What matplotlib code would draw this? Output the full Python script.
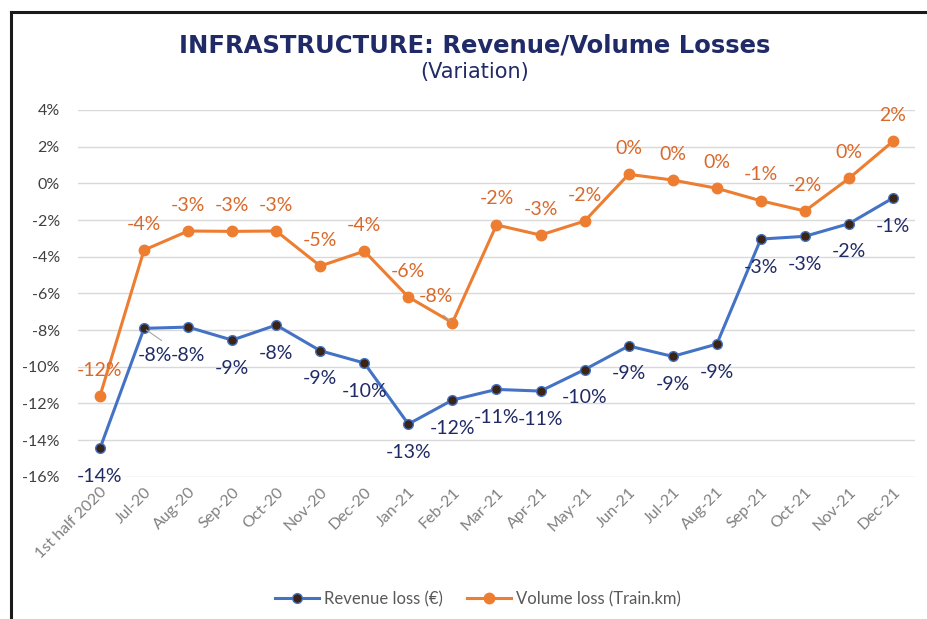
import matplotlib
matplotlib.use("Agg")
import matplotlib.pyplot as plt
from matplotlib.lines import Line2D

# data (percent)
months = ["1st half 2020", "Jul-20", "Aug-20", "Sep-20", "Oct-20", "Nov-20", "Dec-20",
          "Jan-21", "Feb-21", "Mar-21", "Apr-21", "May-21", "Jun-21", "Jul-21",
          "Aug-21", "Sep-21", "Oct-21", "Nov-21", "Dec-21"]
revenue = [-14.46, -7.91, -7.84, -8.55, -7.73, -9.13, -9.80, -13.13, -11.82, -11.24,
           -11.33, -10.16, -8.87, -9.44, -8.77, -3.04, -2.89, -2.20, -0.80]
volume = [-11.60, -3.64, -2.60, -2.62, -2.60, -4.51, -3.70, -6.20, -7.60, -2.27,
          -2.82, -2.06, 0.49, 0.18, -0.27, -0.95, -1.51, 0.27, 2.29]
yticks = [4, 2, 0, -2, -4, -6, -8, -10, -12, -14, -16]

plt.rcParams['font.family'] = ['Lato', 'DejaVu Sans']

ORANGE = '#ED7D31'
ORANGE_TXT = '#D9692A'
BLUE = '#4472C4'
NAVY = '#1F2A66'
GRAY = '#595959'

fig = plt.figure(figsize=(9.28, 6.19), dpi=100)
ax = fig.add_axes([0.084, 0.2299, 0.902, 0.5924])

x = list(range(len(months)))
ax.plot(x, volume, color=ORANGE, lw=2.2, marker='o', ms=7.5,
        mfc=ORANGE, mec=ORANGE, zorder=3, label='Volume loss (Train.km)')
ax.plot(x, revenue, color=BLUE, lw=2.2, marker='o', ms=7,
        mfc='#3B2416', mec=BLUE, mew=1.0, zorder=3, label='Revenue loss (€)')

def pct(v):
    r = int(round(v))
    return "%d%%" % r

# data labels: orange above, blue below
for i, v in enumerate(volume):
    dx, dy = 0, 26
    if i == 8:
        dx, dy = -16, 26
    ax.annotate(pct(v), (i, v), xytext=(dx, dy), textcoords='offset pixels',
                ha='center', va='center', color=ORANGE_TXT, fontsize=14)
for i, v in enumerate(revenue):
    dx, dy = 0, -28
    if i == 1:
        dx, dy = 11, -27
    ax.annotate(pct(v), (i, v), xytext=(dx, dy), textcoords='offset pixels',
                ha='center', va='center', color=NAVY, fontsize=14)

# small leader lines
ax.annotate('', (1, revenue[1]), xytext=(1.45, revenue[1] - 0.75),
            arrowprops=dict(arrowstyle='-', color='#A6A6A6', lw=0.8))
ax.annotate('', (8, volume[8]), xytext=(7.75, volume[8] + 0.5),
            arrowprops=dict(arrowstyle='-', color='#A6A6A6', lw=0.8))

ax.set_xlim(-0.5, len(months) - 0.5)
ax.set_ylim(-16, 4)
ax.set_yticks(yticks)
ax.set_yticklabels(["%d%%" % t for t in yticks])
ax.set_xticks(x)
ax.set_xticklabels(months, rotation=45, ha='right', rotation_mode='anchor')
ax.tick_params(axis='both', length=0, labelsize=11.5, colors=GRAY)
ax.tick_params(axis='y', pad=13)
ax.tick_params(axis='x', pad=6)
for lab in ax.get_xticklabels():
    lab.set_color('#808080')
for lab in ax.get_yticklabels():
    lab.set_color('#404040')
ax.grid(axis='y', color='#D9D9D9', lw=1)
ax.set_axisbelow(True)
for s in ax.spines.values():
    s.set_visible(False)

fig.text(0.511, 0.927, 'INFRASTRUCTURE: Revenue/Volume Losses', ha='center', va='center',
         fontsize=17.5, fontweight='bold', color=NAVY, family='DejaVu Sans')
fig.text(0.511, 0.883, '(Variation)', ha='center', va='center',
         fontsize=15, color=NAVY, family='DejaVu Sans')

handles, labels = ax.get_legend_handles_labels()
leg = fig.legend(handles[::-1], labels[::-1], loc='center', bbox_to_anchor=(0.515, 0.032),
                 ncol=2, frameon=False, fontsize=12, handlelength=2.6,
                 columnspacing=1.5, handletextpad=0.3)
for t in leg.get_texts():
    t.set_color(GRAY)

# chart frame (left and top edges visible)
fig.add_artist(Line2D([11.5 / 928, 11.5 / 928], [0, 1 - 12 / 619], color='#1a1a1a', lw=2.2,
                      transform=fig.transFigure))
fig.add_artist(Line2D([11.5 / 928, 1], [1 - 12 / 619, 1 - 12 / 619], color='#1a1a1a', lw=2.2,
                      transform=fig.transFigure))

fig.savefig('out.png', dpi=100)
